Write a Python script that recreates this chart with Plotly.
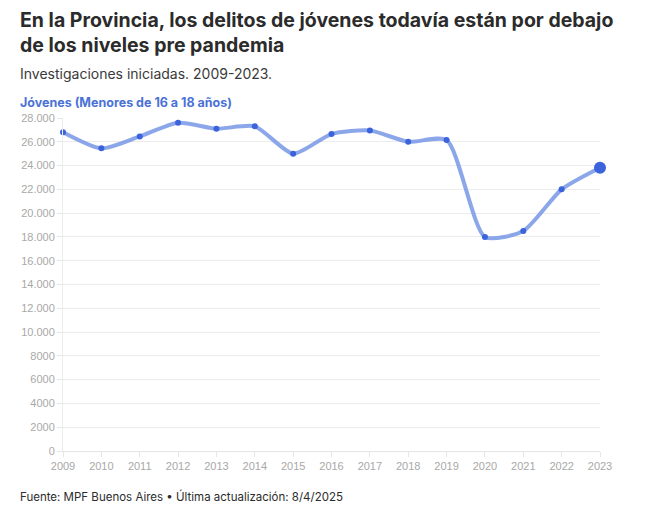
import plotly.graph_objects as go

years = list(range(2009, 2024))
values = [26800, 25450, 26450, 27600, 27100, 27300, 25000, 26650, 26950, 26000, 26150, 18000, 18500, 22000, 23820]
ytick_vals = [0, 2000, 4000, 6000, 8000, 10000, 12000, 14000, 16000, 18000, 20000, 22000, 24000, 26000, 28000]
ytick_text = ["0", "2000", "4000", "6000", "8000", "10.000", "12.000", "14.000", "16.000", "18.000",
              "20.000", "22.000", "24.000", "26.000", "28.000"]

W, H = 646, 508
L, R, T, B = 63, 46, 118, 57
PH = H - T - B
PW = W - L - R

def px_x(x):
    return (x - L) / PW

def px_y(y):
    return (H - B - y) / PH

fig = go.Figure()
fig.add_trace(go.Scatter(
    x=years, y=values, mode="lines",
    line=dict(color="rgba(120,150,230,0.85)", width=4, shape="spline", smoothing=0.65),
    hoverinfo="skip", showlegend=False, cliponaxis=False))
fig.add_trace(go.Scatter(
    x=years[:-1], y=values[:-1], mode="markers",
    marker=dict(color="#3a63dc", size=6), showlegend=False, cliponaxis=False))
fig.add_trace(go.Scatter(
    x=years[-1:], y=values[-1:], mode="markers",
    marker=dict(color="#3a63dc", size=12), showlegend=False, cliponaxis=False))

font = "Inter, Roboto, sans-serif"
fig.update_layout(
    width=W, height=H,
    margin=dict(l=L, r=R, t=T, b=B),
    paper_bgcolor="white", plot_bgcolor="white",
    font=dict(family=font),
    xaxis=dict(range=[2009, 2023], tickvals=years, ticktext=[str(y) for y in years],
               showgrid=False, showline=True, linecolor="#e6e6e6", linewidth=1,
               ticks="outside", ticklen=5, tickcolor="#e6e6e6",
               tickfont=dict(color="#a8a8a8", size=11, family="Liberation Sans, Arial, sans-serif"),
               zeroline=False, fixedrange=True),
    yaxis=dict(range=[0, 28000], tickvals=ytick_vals, ticktext=ytick_text,
               showgrid=True, gridcolor="#ececec", gridwidth=1,
               showline=True, linecolor="#ececec", linewidth=1,
               ticks="outside", ticklen=5, tickcolor="#e6e6e6",
               tickfont=dict(color="#a8a8a8", size=11, family="Liberation Sans, Arial, sans-serif"),
               zeroline=False, fixedrange=True),
    annotations=[
        dict(text="<b>En la Provincia, los delitos de jóvenes todavía están por debajo<br>de los niveles pre pandemia</b>",
             x=px_x(18), y=px_y(6), xref="paper", yref="paper", xanchor="left", yanchor="top",
             showarrow=False, align="left", font=dict(size=19.5, color="#2b2b2b", family=font)),
        dict(text="Investigaciones iniciadas. 2009-2023.",
             x=px_x(18), y=px_y(63), xref="paper", yref="paper", xanchor="left", yanchor="top",
             showarrow=False, align="left", font=dict(size=14, color="#3a3a3a", family=font)),
        dict(text="<b>Jóvenes (Menores de 16 a 18 años)</b>",
             x=px_x(18), y=px_y(93), xref="paper", yref="paper", xanchor="left", yanchor="top",
             showarrow=False, align="left", font=dict(size=12.5, color="#4a72d6", family=font)),
        dict(text="Fuente: MPF Buenos Aires • Última actualización: 8/4/2025",
             x=px_x(18), y=px_y(487), xref="paper", yref="paper", xanchor="left", yanchor="top",
             showarrow=False, align="left", font=dict(size=11.5, color="#2b2b2b", family=font)),
    ],
)

fig.write_html("out.html")
